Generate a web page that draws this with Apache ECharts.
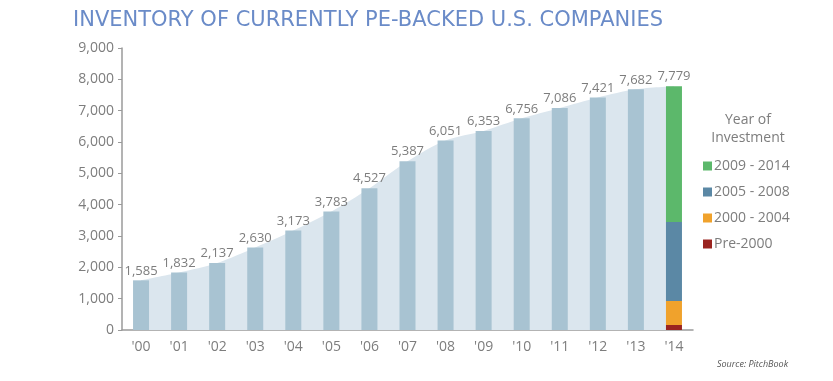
<!DOCTYPE html>
<html><head><meta charset="utf-8">
<script src="https://cdn.jsdelivr.net/npm/echarts@6/dist/echarts.min.js"></script>
<style>html,body{margin:0;padding:0;background:#fff}#c{width:833px;height:381px}</style>
</head><body><div id="c"></div>
<script>
var categories = ["'00","'01","'02","'03","'04","'05","'06","'07","'08","'09","'10","'11","'12","'13","'14"];
var totals = [1585,1832,2137,2630,3173,3783,4527,5387,6051,6353,6756,7086,7421,7682,7779];
var seg2009_2014 = 4332;
var seg2005_2008 = 2522;
var seg2000_2004 = 765;
var segPre2000 = 160;
var yTicks = [0,1000,2000,3000,4000,5000,6000,7000,8000,9000];

var n = categories.length;
function onlyLast(v){ var a=[]; for(var i=0;i<n;i++) a.push(i===n-1? v : '-'); return a; }
var barData = totals.map(function(v,i){ return i===n-1 ? '-' : v; });
var font = "'Open Sans', sans-serif";
var gray = '#7d7d7d';
function fmt(v){ return v.toLocaleString('en-US'); }

var chart = echarts.init(document.getElementById('c'));
chart.setOption({
  animation:false,
  textStyle:{fontFamily:font},
  title:[
    {text:'INVENTORY OF CURRENTLY PE-BACKED U.S. COMPANIES', left:68, top:5,
     textStyle:{color:'#6a8bc8', fontSize:21, fontWeight:'normal', fontFamily:"'DejaVu Sans', sans-serif"}},
    {text:'Year of\nInvestment', left:743, top:106, textAlign:'center',
     textStyle:{color:gray, fontSize:14, fontWeight:'normal', lineHeight:18, fontFamily:font}},
    {text:'Source: PitchBook', left:712, top:355,
     textStyle:{color:'#555', fontSize:9, fontStyle:'italic', fontWeight:'normal', fontFamily:font}}
  ],
  legend:{
    orient:'vertical', left:698, top:154, itemGap:12, itemWidth:9, itemHeight:9, icon:'rect',
    data:['2009 - 2014','2005 - 2008','2000 - 2004','Pre-2000'],
    textStyle:{color:gray, fontSize:14, fontFamily:font, padding:[0,0,0,-3]},
    selectedMode:false
  },
  grid:{left:122, right:140, top:48, bottom:51},
  xAxis:{
    type:'category', data:categories, boundaryGap:true,
    axisLine:{lineStyle:{color:'#9a9a9a', width:1.5}},
    axisTick:{length:5, lineStyle:{color:'#9a9a9a'}},
    axisLabel:{color:gray, fontSize:14, margin:10}
  },
  yAxis:{
    type:'value', min:yTicks[0], max:yTicks[yTicks.length-1], interval:1000,
    axisLine:{show:true, lineStyle:{color:'#9a9a9a', width:1.5}},
    axisTick:{show:true, length:4, lineStyle:{color:'#9a9a9a'}},
    splitLine:{show:false},
    axisLabel:{color:gray, fontSize:14, margin:8, formatter:function(v){return fmt(v);}}
  },
  series:[
    {type:'line', name:'area', data:totals, smooth:0.3, symbol:'none', z:1,
     lineStyle:{width:0}, areaStyle:{color:'#dbe6ee', opacity:1}, silent:true},
    {type:'bar', name:'Total', data:barData, stack:'a', barWidth:16, z:2,
     itemStyle:{color:'#a8c3d2'},
     label:{show:true, position:'top', color:gray, fontSize:13, distance:3,
       formatter:function(p){return fmt(p.value);}}},
    {type:'bar', name:'Pre-2000', data:onlyLast(segPre2000), stack:'a', barWidth:16, z:2, itemStyle:{color:'#9a2420'}},
    {type:'bar', name:'2000 - 2004', data:onlyLast(seg2000_2004), stack:'a', barWidth:16, z:2, itemStyle:{color:'#f0a22c'}},
    {type:'bar', name:'2005 - 2008', data:onlyLast(seg2005_2008), stack:'a', barWidth:16, z:2, itemStyle:{color:'#5b88a5'}},
    {type:'bar', name:'2009 - 2014', data:onlyLast(seg2009_2014), stack:'a', barWidth:16, z:2, itemStyle:{color:'#5cb86b'},
     label:{show:true, position:'top', color:gray, fontSize:13, distance:3,
       formatter:function(){return fmt(totals[n-1]);}}}
  ]
});
</script></body></html>
